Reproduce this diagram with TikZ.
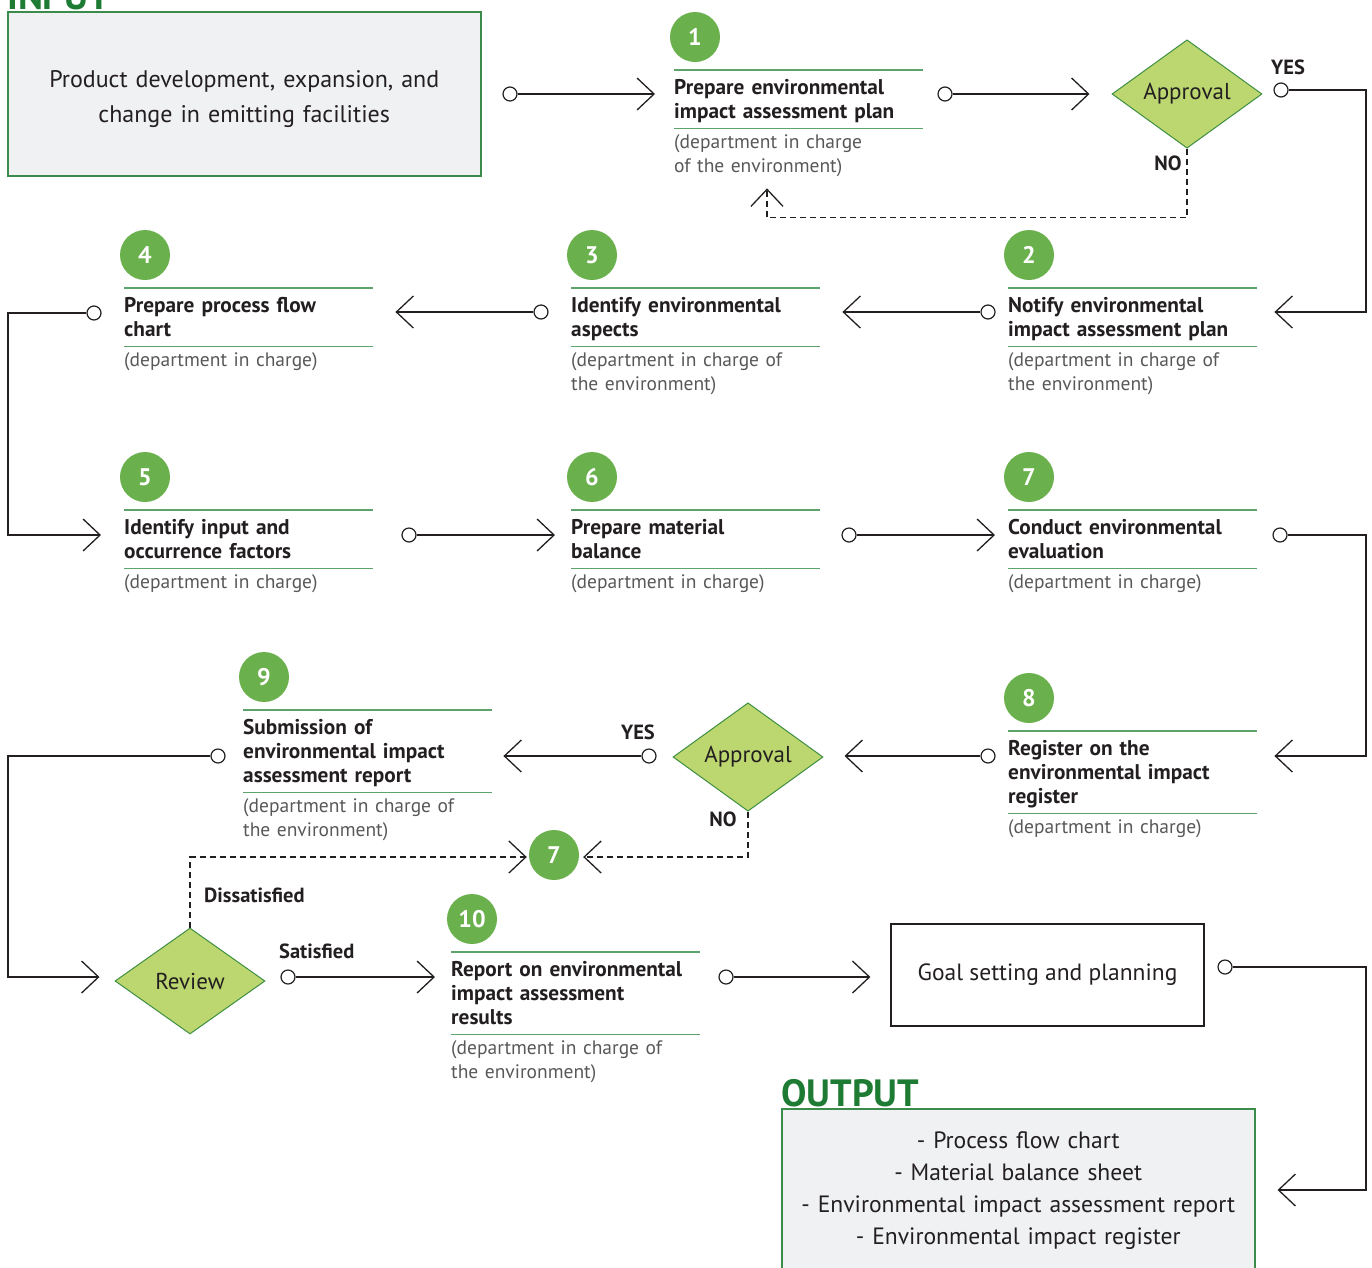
\documentclass[tikz,border=0pt]{standalone}
\usepackage{fontspec}
\setmainfont{PT Sans}
\usetikzlibrary{positioning, arrows.meta, shapes.geometric, calc}

\definecolor{ink}{HTML}{231F20}
\definecolor{subgrey}{HTML}{58585A}
\definecolor{numgreen}{HTML}{6AB04C}
\definecolor{rulegreen}{HTML}{5FA36C}
\definecolor{decfill}{HTML}{BDD770}
\definecolor{decdraw}{HTML}{3E8E41}
\definecolor{boxfill}{HTML}{F0F1F3}
\definecolor{boxdraw}{HTML}{3B8B4B}
\definecolor{iogreen}{HTML}{1E7B34}

\tikzset{
  ttl/.style={anchor=north west, text width=249pt, inner xsep=0pt, inner ysep=0pt, align=left, text=ink,
    font=\bfseries\fontsize{21.3}{24}\selectfont,
    execute at begin node={\rule{0pt}{24pt}}, execute at end node={\rule[-10pt]{0pt}{10pt}}},
  sub/.style={anchor=north west, text width=260pt, inner xsep=0pt, inner ysep=0pt, align=left, text=subgrey,
    font=\fontsize{19.5}{24}\selectfont, execute at begin node={\rule{0pt}{20pt}}},
  rule/.style={draw=rulegreen, line width=1.6pt},
  num/.style={circle, fill=numgreen, minimum size=50pt, inner sep=0pt, text=white, font=\bfseries\fontsize{24}{24}\selectfont},
  dec/.style={diamond, draw=decdraw, fill=decfill, line width=1pt, minimum width=150pt, minimum height=106pt,
    inner sep=0pt, text=ink, font=\fontsize{23}{23}\selectfont},
  iobox/.style={draw=boxdraw, fill=boxfill, line width=1.5pt, minimum width=473pt, minimum height=164pt,
    text width=450pt, align=center, text=ink, font=\fontsize{24}{35}\selectfont},
  iolabel/.style={anchor=base west, inner sep=0pt, text=iogreen, font=\bfseries\fontsize{38}{38}\selectfont},
  plainbox/.style={draw=ink, line width=1.2pt, minimum width=313pt, minimum height=102pt, text=ink,
    font=\fontsize{23.5}{26}\selectfont},
  dot/.style={circle, draw=ink, fill=white, line width=1.2pt, minimum size=14pt, inner sep=0pt},
  flow/.style={draw=ink, line width=1.3pt, -{Straight Barb[length=17pt, width=32pt]}},
  dflow/.style={flow, dash pattern=on 6pt off 4pt},
  yn/.style={inner sep=0pt, text=ink, font=\bfseries\fontsize{20.5}{20.5}\selectfont},
}

\begin{document}
\begin{tikzpicture}[x=1pt, y=-1pt]
\useasboundingbox (0,0) rectangle (1372,1267);

% input and output boxes
\node[iobox, anchor=north west, execute at begin node={\rule{0pt}{27pt}}] (inbox) at (7,11)
  {Product development, expansion, and\\change in emitting facilities};
\node[iolabel] (inlbl) at ([yshift=2pt]inbox.north west) {INPUT};
\node[iobox, anchor=north west, font=\fontsize{23.6}{32}\selectfont] (outbox) at (781,1108)
  {- Process flow chart\\- Material balance sheet\\- Environmental impact assessment report\\- Environmental impact register};
\node[iolabel] (outlbl) at ([yshift=2pt]outbox.north west) {OUTPUT};
\node[plainbox] (goal) at (1047.5,975) {Goal setting and planning};

% decisions
\node[dec] (ap1) at (1187,94) {Approval};
\node[dec] (ap2) at (748,757) {Approval};
\node[dec] (rev) at (190,981) {Review};

% steps
\node[ttl] (t1) at (674,70) {Prepare environmental\\impact assessment plan};
\node[ttl] (t2) at (1008,288) {Notify environmental\\impact assessment plan};
\node[ttl] (t3) at (571,288) {Identify environmental\\aspects};
\node[ttl] (t4) at (124,288) {Prepare process flow\\chart};
\node[ttl] (t5) at (124,510) {Identify input and\\occurrence factors};
\node[ttl] (t6) at (571,510) {Prepare material\\balance};
\node[ttl] (t7) at (1008,510) {Conduct environmental\\evaluation};
\node[ttl] (t8) at (1008,731) {Register on the\\environmental impact\\register};
\node[ttl] (t9) at (243,710) {Submission of\\environmental impact\\assessment report};
\node[ttl] (t10) at (451,952) {Report on environmental\\impact assessment\\results};

\node[sub] (s1) at (t1.south west) {(department in charge\\of the environment)};
\node[sub] (s2) at (t2.south west) {(department in charge of\\the environment)};
\node[sub] (s3) at (t3.south west) {(department in charge of\\the environment)};
\node[sub] (s4) at (t4.south west) {(department in charge)};
\node[sub] (s5) at (t5.south west) {(department in charge)};
\node[sub] (s6) at (t6.south west) {(department in charge)};
\node[sub] (s7) at (t7.south west) {(department in charge)};
\node[sub] (s8) at (t8.south west) {(department in charge)};
\node[sub] (s9) at (t9.south west) {(department in charge of\\the environment)};
\node[sub] (s10) at (t10.south west) {(department in charge of\\the environment)};

\foreach \i in {1,...,10} {
  \node[num] (n\i) at ($(t\i.north west)+(21,-33)$) {\i};
  \draw[rule] (t\i.north west) -- (t\i.north east);
  \draw[rule] (t\i.south west) -- (t\i.south east);
}
\node[num] (n7b) at (554,855) {7};

% start dots
\node[dot] (din) at (510,94) {};
\node[dot] (d1) at (945,94) {};
\node[dot] (dy1) at (1281,90) {};
\node[dot] (d2) at (988,312) {};
\node[dot] (d3) at (541,312) {};
\node[dot] (d4) at (94,313) {};
\node[dot] (d5) at (409,535) {};
\node[dot] (d6) at (849,535) {};
\node[dot] (d7) at (1280,535) {};
\node[dot] (d8) at (988,756) {};
\node[dot] (dy2) at (649,756) {};
\node[dot] (d9) at (218,756) {};
\node[dot] (ds) at (288,977) {};
\node[dot] (d10) at (726,977) {};
\node[dot] (dg) at (1225,967) {};

\coordinate (rr) at (1366,0);
\coordinate (lr) at (8,0);
\coordinate (redo1) at ($(t1.south west)+(93,60)$);

% connectors
\draw[flow] (din) -- ($(t1.west |- din)+(-19,0)$);
\draw[flow] (d1) -- ($(ap1.west |- d1)+(-22,0)$);
\draw[flow] (dy1) -- (dy1 -| rr) |- ($(t2.east |- d2)+(17,0)$);
\draw[flow] (d2) -- ($(t3.east |- d2)+(22,0)$);
\draw[flow] (d3) -- ($(t4.east |- d3)+(22,0)$);
\draw[flow] (d4) -- (d4 -| lr) |- ($(t5.west |- d5)+(-23,0)$);
\draw[flow] (d5) -- ($(t6.west |- d5)+(-16,0)$);
\draw[flow] (d6) -- ($(t7.west |- d6)+(-13,0)$);
\draw[flow] (d7) -- (d7 -| rr) |- ($(t8.east |- d8)+(17,0)$);
\draw[flow] (d8) -- ($(ap2.east |- d8)+(21,0)$);
\draw[flow] (dy2) -- ($(t9.east |- dy2)+(11,0)$);
\draw[flow] (d9) -- (d9 -| lr) |- ($(rev.west |- ds)+(-15,0)$);
\draw[flow] (ds) -- ($(t10.west |- ds)+(-16,0)$);
\draw[flow] (d10) -- ($(goal.west |- d10)+(-20,0)$);
\draw[flow] (dg) -- (dg -| rr) |- ($(outbox.north east)+(22,82)$);

\draw[dflow] (ap1.south) -- ++(0,69) -| (redo1);
\draw[dflow] (ap2.south) |- ($(n7b.east)+(4,2)$);
\draw[dflow] (rev.north) |- ($(n7b.west)+(-2,2)$);

% branch labels
\node[yn] (yes1) at (1288,67) {YES};
\node[yn] (no1) at (1168,163) {NO};
\node[yn] (yes2) at (638,732) {YES};
\node[yn] (no2) at (723,819) {NO};
\node[yn, anchor=west] (dis) at (204,895) {Dissatisfied};
\node[yn, anchor=west] (sat) at (279,951) {Satisfied};
\end{tikzpicture}
\end{document}
